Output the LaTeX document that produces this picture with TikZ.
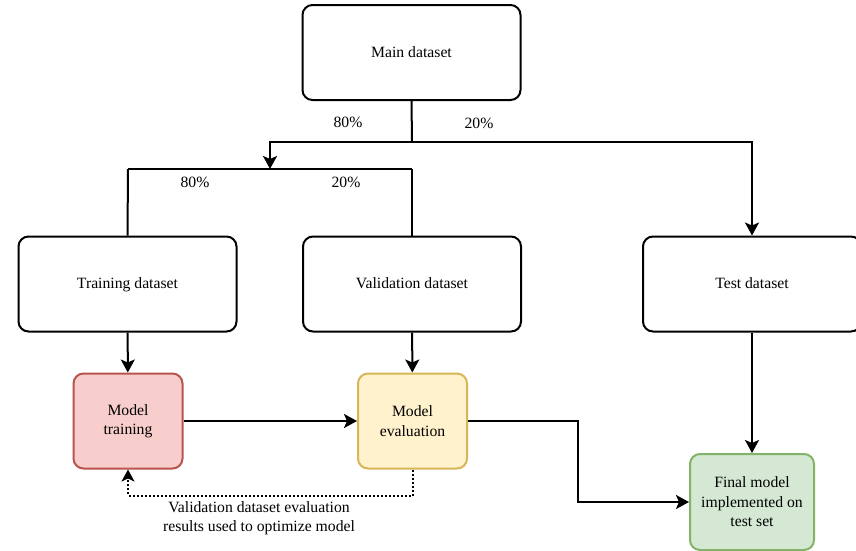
\documentclass[tikz,border=0pt]{standalone}
\usepackage{fontspec}
\setmainfont{Liberation Serif}
\usetikzlibrary{arrows.meta}
\definecolor{redfill}{HTML}{F8CECC}
\definecolor{redline}{HTML}{B85450}
\definecolor{yelfill}{HTML}{FFF2CC}
\definecolor{yelline}{HTML}{D6B656}
\definecolor{grnfill}{HTML}{D5E8D4}
\definecolor{grnline}{HTML}{82B366}
\begin{document}
\begin{tikzpicture}[x=1pt,y=-1pt,
  txt/.style={font=\fontsize{15.7}{19.5}\selectfont},
  box/.style={txt, draw, line width=2pt, rounded corners=10pt, minimum width=218pt, minimum height=95pt, align=center, inner sep=0pt},
  onebox/.style={box, text height=13pt, text depth=3.3pt},
  sbox/.style={box, minimum width=109pt},
  wire/.style={line width=2pt},
  conn/.style={wire, -{Stealth[length=13pt,width=14pt,inset=3pt]}},
  dotconn/.style={line width=2pt, dash pattern=on 2pt off 2pt, -{Stealth[length=12pt,width=13pt,inset=3pt]}}]
\useasboundingbox (0,0) rectangle (856,550);
\fill[white] (0,0) rectangle (856,550);

\node[onebox] (main) at (411.5,52.5) {Main dataset};
\node[onebox] (train) at (127.5,284) {Training dataset};
\node[onebox] (val) at (412,284) {Validation dataset};
\node[onebox] (test) at (752,284) {Test dataset};
\node[sbox, fill=redfill, draw=redline] (mt) at (128,421) {Model\\training};
\node[sbox, fill=yelfill, draw=yelline] (me) at (412.5,421) {Model\\evaluation};
\node[sbox, minimum width=124pt, minimum height=96pt, fill=grnfill, draw=grnline] (final) at (752,502) {Final model\\implemented on\\test set};

\coordinate (j1) at (412,142);
\coordinate (j1l) at (270,142);
\coordinate (j2) at (270,169);
\coordinate (j2l) at (128,169);
\coordinate (j2r) at (412,169);
\coordinate (bend) at (578,421);

\draw[wire] (main.south) -- (j1);
\draw[conn] (j1) -- (j1l) -- (j2);
\draw[conn] (j1) -| (test.north);
\draw[wire] (j2l) -- (j2r);
\draw[wire] (j2l) -- (train.north);
\draw[wire] (j2r) -- (val.north);
\draw[conn] (train) -- (mt);
\draw[conn] (val) -- (me);
\draw[conn] (test) -- (final);
\draw[conn] (mt) -- (me);
\draw[conn] (me.east) -- (bend) |- (final.west);
\draw[dotconn] (me.south) -- ++(0,26) -| (mt.south);

\node[txt] (l1) at (348,122) {80\%};
\node[txt] (l2) at (479,123) {20\%};
\node[txt] (l3) at (195,182) {80\%};
\node[txt] (l4) at (346,182) {20\%};
\node[txt, align=center, inner sep=0pt] (note) at (259,518) {Validation dataset evaluation\\results used to optimize model};
\end{tikzpicture}
\end{document}
